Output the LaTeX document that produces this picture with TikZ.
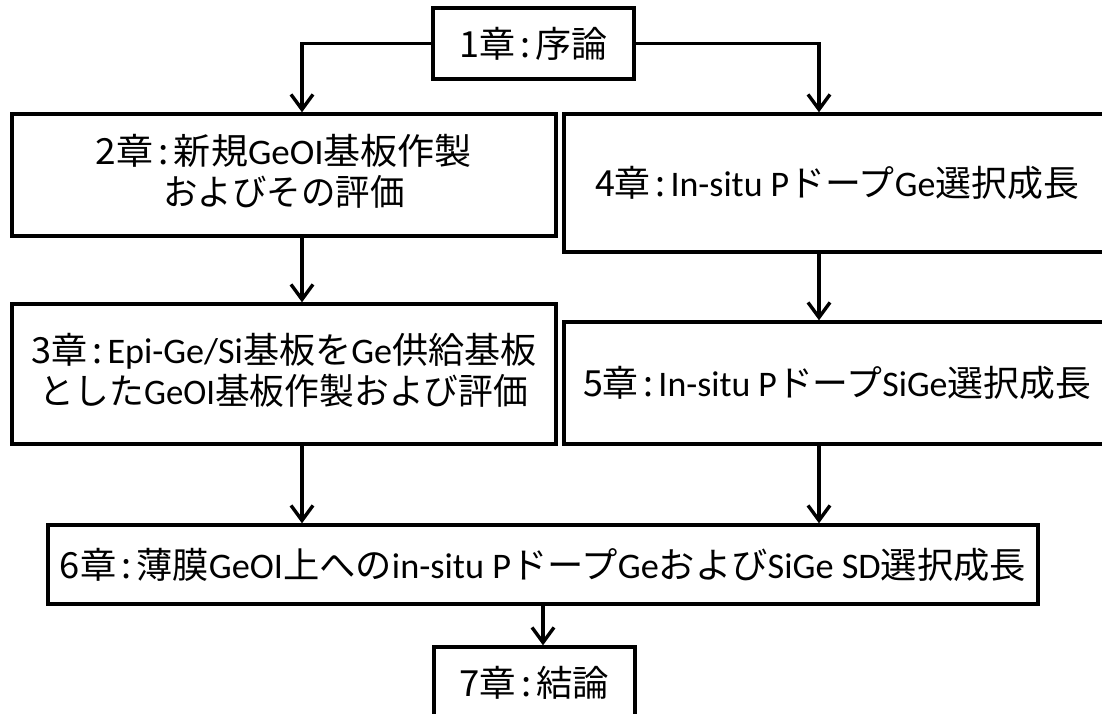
\documentclass[tikz,border=0pt]{standalone}
\usepackage{fontspec}
\usepackage{graphicx}
\setmainfont{Carlito}
\newfontfamily\jp{Noto Sans CJK JP}
\usetikzlibrary{arrows.meta}
\newcommand{\J}[1]{{\jp #1}}
\newcommand{\cl}{\makebox[0.55em]{\jp :}}
\newcommand{\W}[2]{\resizebox{#1pt}{\height}{#2}}
\begin{document}
\begin{tikzpicture}[x=1pt,y=-1pt,
  box/.style={draw, line width=3.4pt, inner sep=0pt, align=center,
    font=\fontsize{36}{35}\selectfont},
  arr/.style={line width=3.4pt, -{Straight Barb[length=15pt,width=22pt]}}]
\useasboundingbox (0,0) rectangle (1102,714);
\clip (0,0) rectangle (1102,714);
\coordinate (ax) at (302,0);
\coordinate (bx) at (819,0);
\node[box, minimum width=201pt, minimum height=71pt] (b1) at (533.5,43.5) {\W{148}{\J{1章}\cl\J{序論}}};
\node[box, minimum width=544pt, minimum height=122pt] (b2) at (284,175) {\raisebox{-8pt}{\begin{tabular}{@{}c@{}}\W{376}{\J{2章}\cl\J{新規}GeOI\J{基板作製}}\\\W{241}{\J{およびその評価}}\end{tabular}}};
\node[box, minimum width=546pt, minimum height=138pt] (b4) at (837,183) {\raisebox{-3pt}{\W{484}{\J{4章}\cl In-situ P\J{ドープ}Ge\J{選択成長}}}};
\node[box, minimum width=544pt, minimum height=140pt] (b3) at (284,374) {\begin{tabular}{@{}c@{}}\W{505}{\J{3章}\cl Epi-Ge/Si\J{基板を}Ge\J{供給基板}}\\\W{488}{\J{とした}GeOI\J{基板作製および評価}}\end{tabular}};
\node[box, minimum width=546pt, minimum height=122pt] (b5) at (837,383) {\raisebox{-3pt}{\W{508}{\J{5章}\cl In-situ P\J{ドープ}SiGe\J{選択成長}}}};
\node[box, minimum width=990pt, minimum height=79pt] (b6) at (543,564.5) {\W{966}{\J{6章}\cl\J{薄膜}GeOI\J{上への}in-situ P\J{ドープ}Ge\J{および}SiGe SD\J{選択成長}}};
\node[box, minimum width=201pt, minimum height=71pt] (b7) at (534.5,682.5) {\W{150}{\J{7章}\cl\J{結論}}};
\draw[arr] (b1.west) -| (b2.north -| ax);
\draw[arr] (b1.east) -| (b4.north -| bx);
\draw[arr] (b2.south -| ax) -- (b3.north -| ax);
\draw[arr] (b4.south -| bx) -- (b5.north -| bx);
\draw[arr] (b3.south -| ax) -- (b6.north -| ax);
\draw[arr] (b5.south -| bx) -- (b6.north -| bx);
\draw[arr] (b6.south) -- (b6.south |- b7.north);
\end{tikzpicture}
\end{document}
